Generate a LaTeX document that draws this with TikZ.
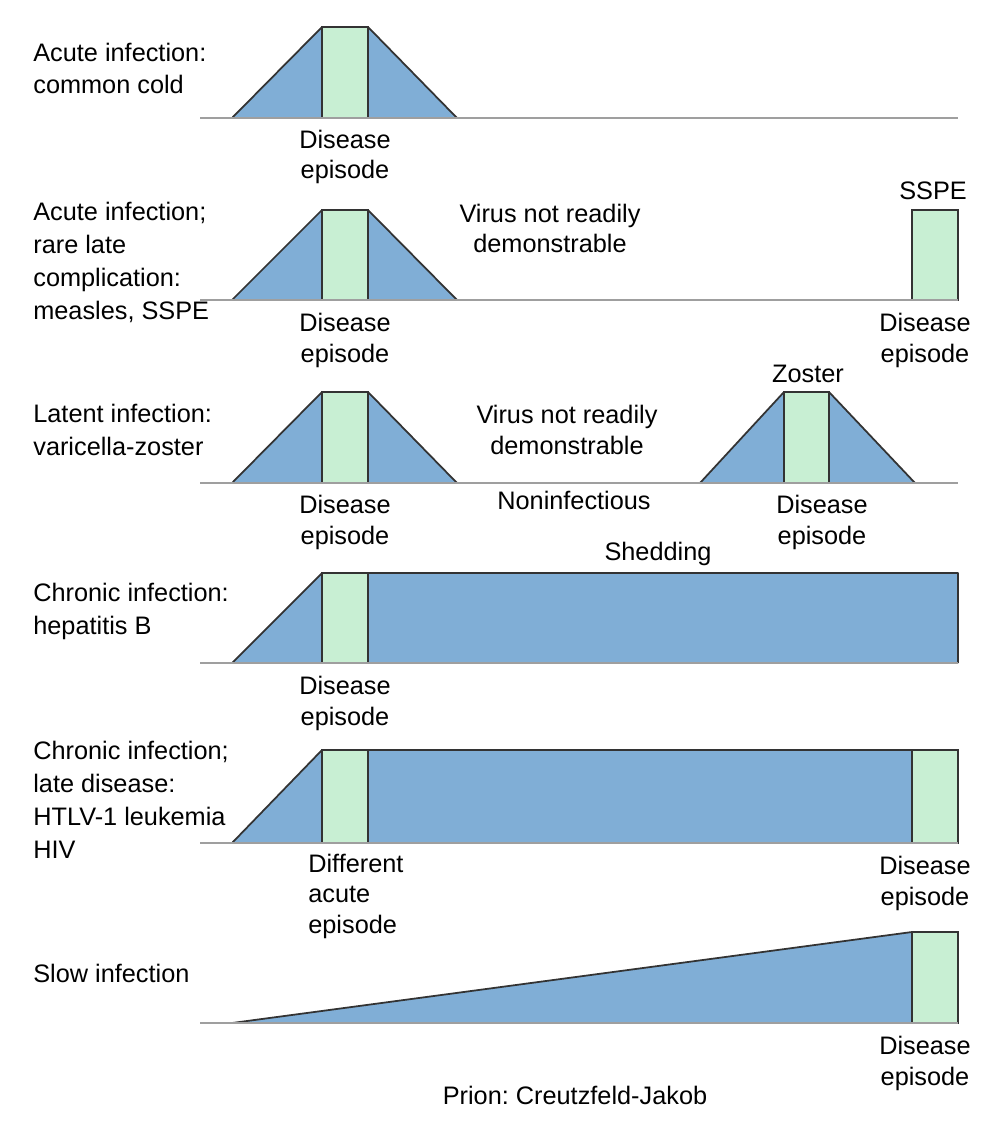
\documentclass[tikz,border=0pt]{standalone}
\usepackage{fontspec}
\setmainfont{Liberation Sans}
\usetikzlibrary{positioning}
\definecolor{shedblue}{HTML}{80AED6}
\definecolor{sickgreen}{HTML}{C8EFD3}
\definecolor{edgegray}{HTML}{333333}
\frenchspacing

\begin{document}
\begin{tikzpicture}[x=0.02cm, y=-0.02cm,
    lbl/.style={font=\fontsize{14.4}{17.3}\selectfont, inner sep=0pt, align=center, anchor=base},
    rowlbl/.style={lbl, font=\fontsize{14.4}{18.7}\selectfont, anchor=base west, align=left},
    edge/.style={draw=edgegray, line width=1pt, line join=round},
    illness/.style={fill=sickgreen, draw=edgegray, line width=1pt},
    axis/.style={draw=gray!75, line width=1.6pt}]
    \useasboundingbox (0,0) rectangle (1006,1125);

    % Acute bumps (rows 1-3)
    \foreach \b/\t in {118/27, 300/210, 483/392} {
        \fill[shedblue] (232,\b) -- (322,\t) -- (368,\t) -- (457,\b) -- cycle;
        \draw[edge] (232,\b) -- (322,\t) -- (368,\t) -- (457,\b);
        \draw[illness] (322,\t) rectangle (368,\b);
    }

    % Late complication and zoster
    \draw[illness] (912,210) rectangle (958,300);
    \fill[shedblue] (700,483) -- (784,392) -- (829,392) -- (915,483) -- cycle;
    \draw[edge] (700,483) -- (784,392) -- (829,392) -- (915,483);
    \draw[illness] (784,392) rectangle (829,483);

    % Chronic shedding
    \foreach \b/\t in {663/573, 843/750} {
        \fill[shedblue] (232,\b) -- (322,\t) -- (958,\t) -- (958,\b) -- cycle;
        \draw[edge] (232,\b) -- (322,\t) -- (958,\t) -- (958,\b);
        \draw[illness] (322,\t) rectangle (368,\b);
    }
    \draw[illness] (912,750) rectangle (958,843);

    % Slow infection
    \fill[shedblue] (232,1023) -- (912,932) -- (912,1023) -- cycle;
    \draw[edge] (232,1023) -- (912,932) -- (912,1023);
    \draw[illness] (912,932) rectangle (958,1023);

    % Time lines
    \foreach \b in {118,300,483,663,843,1023} \draw[axis] (200,\b) -- (958,\b);

    % Row labels (anchored at the last baseline)
    \node[rowlbl] (acute) at (33,94) {Acute infection:\\common cold};
    \node[rowlbl] (measles) at (33,319) {Acute infection;\\rare late\\complication:\\measles, SSPE};
    \node[rowlbl] (latent) at (33,455) {Latent infection:\\varicella-zoster};
    \node[rowlbl] (hepb) at (33,634) {Chronic infection:\\hepatitis B};
    \node[rowlbl] (htlv) at (33,858) {Chronic infection;\\late disease:\\HTLV-1 leukemia\\HIV};
    \node[rowlbl] (slow) at (33,982) {Slow infection};

    % Episode labels
    \node[lbl] (ep1) at (345,179) {Disease\\episode};
    \node[lbl] (ep2) at (345,362) {Disease\\episode};
    \node[lbl] (ep3) at (345,544) {Disease\\episode};
    \node[lbl] (ep4) at (345,725) {Disease\\episode};
    \node[lbl, anchor=base west, align=left] (ep5) at (308,933) {Different\\acute\\episode};
    \node[lbl] (sspeep) at (925,362) {Disease\\episode};
    \node[lbl] (zosterep) at (822,544) {Disease\\episode};
    \node[lbl] (htlvep) at (925,905) {Disease\\episode};
    \node[lbl] (slowep) at (925,1085) {Disease\\episode};

    % Other texts
    \node[lbl] (sspe) at (933,199) {SSPE};
    \node[lbl] (hidden2) at (550,253) {Virus not readily\\demonstrable};
    \node[lbl] (hidden3) at (567,454) {Virus not readily\\demonstrable};
    \node[lbl] (zoster) at (808,382) {Zoster};
    \node[lbl] (noninf) at (574,509) {Noninfectious};
    \node[lbl] (shed) at (658,560) {Shedding};
    \node[lbl] (prion) at (575,1104) {Prion: Creutzfeld-Jakob};
\end{tikzpicture}
\end{document}
